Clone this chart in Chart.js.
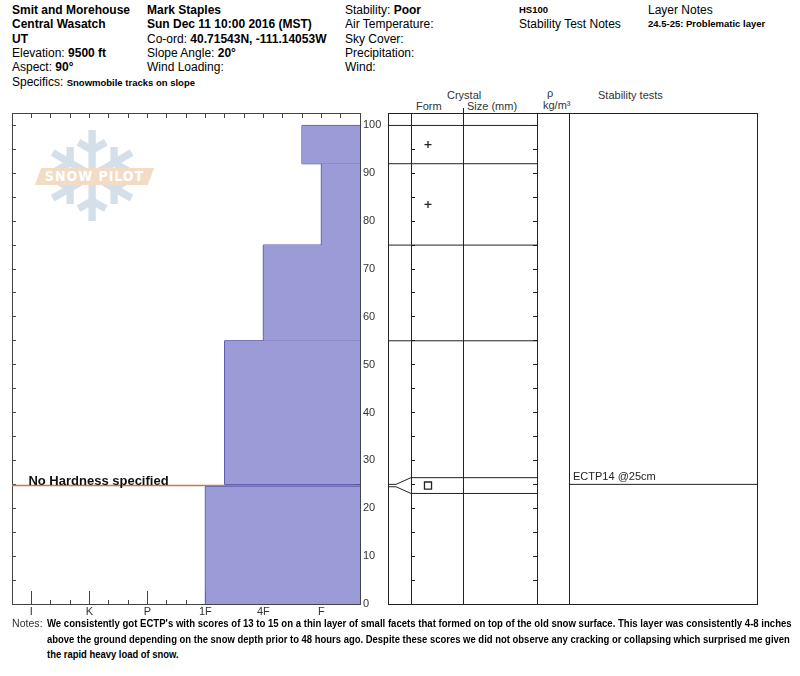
<!DOCTYPE html>
<html>
<head>
<meta charset="utf-8">
<script src="https://cdn.jsdelivr.net/npm/chart.js@4.4.0/dist/chart.umd.min.js"></script>
<style>
body { margin: 0; background: #fff; width: 800px; height: 676px; overflow: hidden; position: relative;
       font-family: "Liberation Sans", Arial, sans-serif; color: #000; }
.t { position: absolute; font-size: 12px; line-height: 14px; white-space: nowrap; }
.b { font-weight: bold; }
.s { font-size: 9.5px; font-weight: bold; }
.h { position: absolute; font-size: 11px; line-height: 12px; color: #333; white-space: nowrap; }
canvas { position: absolute; }
#notes { position: absolute; left: 12px; top: 616px; font-family: "Liberation Sans Narrow", "Arial Narrow", "Liberation Sans", sans-serif; }
#notes .lbl { position: absolute; left: 0; top: 0; font-size: 11.5px; line-height: 15.5px; color: #333; transform: scaleX(0.92); transform-origin: 0 0; }
#notes .nl { position: absolute; left: 35px; font-size: 10.5px; line-height: 15.5px; font-weight: bold; white-space: nowrap; transform-origin: 0 0; }
</style>
</head>
<body>

<!-- header -->
<div class="t b" style="left:12px;top:3px">Smit and Morehouse</div>
<div class="t b" style="left:12px;top:17px">Central Wasatch</div>
<div class="t b" style="left:12px;top:32px">UT</div>
<div class="t" style="left:12px;top:46px">Elevation: <b>9500 ft</b></div>
<div class="t" style="left:12px;top:60px">Aspect: <b>90°</b></div>
<div class="t" style="left:12px;top:75px">Specifics: <span class="s">Snowmobile tracks on slope</span></div>

<div class="t b" style="left:147px;top:3px">Mark Staples</div>
<div class="t b" style="left:147px;top:17px">Sun Dec 11 10:00 2016 (MST)</div>
<div class="t" style="left:147px;top:32px">Co-ord: <b>40.71543N, -111.14053W</b></div>
<div class="t" style="left:147px;top:46px">Slope Angle: <b>20°</b></div>
<div class="t" style="left:147px;top:60px">Wind Loading:</div>

<div class="t" style="left:345px;top:3px">Stability: <b>Poor</b></div>
<div class="t" style="left:345px;top:17px">Air Temperature:</div>
<div class="t" style="left:345px;top:32px">Sky Cover:</div>
<div class="t" style="left:345px;top:46px">Precipitation:</div>
<div class="t" style="left:345px;top:60px">Wind:</div>

<div class="t s" style="left:519px;top:3px">HS100</div>
<div class="t" style="left:519px;top:17px">Stability Test Notes</div>
<div class="t" style="left:648px;top:3px">Layer Notes</div>
<div class="t s" style="left:648px;top:17px">24.5-25: Problematic layer</div>

<!-- table headers -->
<div class="h" style="left:447px;top:89px">Crystal</div>
<div class="h" style="left:416px;top:100px">Form</div>
<div class="h" style="left:467px;top:100px">Size (mm)</div>
<div class="h" style="left:547px;top:87px">ρ</div>
<div class="h" style="left:543px;top:99px">kg/m³</div>
<div class="h" style="left:598px;top:89px">Stability tests</div>

<!-- watermark -->
<div style="position:absolute;left:32px;top:108px;width:120px;text-align:center;font:125px/140px 'DejaVu Sans';color:#d5dfe9">❄</div>
<div style="position:absolute;left:38px;top:168px;width:113px;height:17px;background:#f3dcc6;transform:skewX(-20deg)"></div>
<div style="position:absolute;left:38px;top:168px;width:113px;height:17px;line-height:17px;text-align:center;color:#fff;font:bold 14px 'DejaVu Sans Condensed','DejaVu Sans';letter-spacing:1px">SNOW PILOT</div>

<canvas id="hardness" width="400" height="640" style="left:0;top:0"></canvas>
<canvas id="layers" width="420" height="640" style="left:380px;top:0"></canvas>

<div id="notes">
  <div class="lbl">Notes:</div>
  <div class="nl" style="top:0">We consistently got ECTP's with scores of 13 to 15 on a thin layer of small facets that formed on top of the old snow surface. This layer was consistently 4-8 inches</div>
  <div class="nl" style="top:15.5px">above the ground depending on the snow depth prior to 48 hours ago. Despite these scores we did not observe any cracking or collapsing which surprised me given</div>
  <div class="nl" style="top:31px">the rapid heavy load of snow.</div>
</div>

<script>
// snow layers, heights in cm above ground
const layerBottoms   = [0, 24.5, 25, 55, 75, 92];
const layerTops      = [24.5, 25, 55, 75, 92, 100];
const layerHardness  = ['1F', null, '1F-', '4F', 'F', 'F+'];
const layerGrainForm = [null, 'FC', null, null, 'PP', 'PP'];

// hardness axis, hardest on the left
const hardnessTicks = ['I', 'K', 'P', '1F', '4F', 'F'];

// height axis
const depthTicks      = [0, 10, 20, 30, 40, 50, 60, 70, 80, 90, 100];
const depthMinorTicks = [5, 15, 25, 35, 45, 55, 65, 75, 85, 95];

// stability tests
const testNames  = ['ECTP14'];
const testDepths = [25];

// layout constants
const H_MAX = 18;          // hardness axis: one unit per minor tick
const Y_MAX = 102.6;
const TABLE_W = 369;
const COL_FORM = 23, COL_SIZE = 75, COL_DENS = 149, COL_STAB = 181;
const THIN_EXPAND = 1.65;

Chart.defaults.font.family = '"Liberation Sans", Arial, sans-serif';
Chart.defaults.font.size = 11;
Chart.defaults.color = '#333';

function hardnessValue(code) {
    var base = code.replace(/[+-]$/, '');
    var v = 1 + 3 * hardnessTicks.indexOf(base);
    if (code.endsWith('-')) v += 1;
    if (code.endsWith('+')) v -= 1;
    return v;
}

function setTicks(values) {
    return function(scale) {
        scale.ticks = values.slice().sort(function(a, b) { return a - b; }).map(function(v) { return {value: v}; });
    };
}

var allDepthTicks = depthTicks.concat(depthMinorTicks);
var majorHardness = hardnessTicks.map(function(_, i) { return 1 + 3 * i; });
var allHardness = [];
for (var k = 1; k < H_MAX; k++) allHardness.push(k);

// text drawn at data coordinates
function textPlugin(items) {
    return {
        id: 'texts',
        afterDatasetsDraw: function(chart) {
            var ctx = chart.ctx;
            ctx.save();
            items.forEach(function(it) {
                ctx.font = it.font;
                ctx.fillStyle = it.color;
                ctx.textBaseline = 'alphabetic';
                ctx.fillText(it.text, chart.scales.x.getPixelForValue(it.x),
                             chart.scales.y.getPixelForValue(it.y) + it.dy);
            });
            ctx.restore();
        }
    };
}

// ---------- hardness profile ----------
var hardSets = [];
var outline = [];
var noHardness = [];
layerTops.forEach(function(top, i) {
    var bot = layerBottoms[i];
    var code = layerHardness[i];
    if (!code) {
        noHardness.push((top + bot) / 2);
        return;
    }
    var h = hardnessValue(code);
    hardSets.push({
        type: 'line',
        data: [{x: h, y: top}, {x: H_MAX, y: top}],
        fill: {value: bot},
        backgroundColor: '#9b9bd7',
        borderWidth: 0,
        pointRadius: 0
    });
    outline.push({x: H_MAX, y: bot}, {x: h, y: bot}, {x: h, y: top}, {x: H_MAX, y: top}, {x: null, y: null});
});
hardSets.push({
    type: 'line',
    data: outline,
    borderColor: '#35359a',
    borderWidth: 1,
    pointRadius: 0,
    fill: false,
    spanGaps: false
});
noHardness.forEach(function(y) {
    hardSets.push({
        type: 'line',
        data: [{x: 0, y: y}, {x: H_MAX, y: y}],
        borderColor: '#c9784e',
        borderWidth: 1.5,
        pointRadius: 0,
        fill: false
    });
});

var axisGrey = '#444';
new Chart(document.getElementById('hardness'), {
    type: 'scatter',
    data: {datasets: hardSets},
    options: {
        responsive: false,
        animation: false,
        events: [],
        layout: {padding: {left: 12, top: 113, right: 0, bottom: 0}},
        plugins: {legend: {display: false}, tooltip: {enabled: false}},
        scales: {
            x: {
                type: 'linear', position: 'bottom', min: 0, max: H_MAX,
                afterBuildTicks: setTicks(majorHardness),
                afterFit: function(s) { s.height = 36; },
                grid: {drawOnChartArea: false, tickLength: -13, color: axisGrey},
                border: {color: axisGrey},
                ticks: {
                    padding: 14,
                    callback: function(v) { var i = majorHardness.indexOf(v); return i < 0 ? '' : hardnessTicks[i]; }
                }
            },
            xMinor: {
                axis: 'x', type: 'linear', position: {y: 0}, min: 0, max: H_MAX,
                afterBuildTicks: setTicks(allHardness),
                grid: {drawOnChartArea: false, tickLength: -4, color: axisGrey},
                border: {display: false},
                ticks: {display: false}
            },
            xTop: {
                axis: 'x', type: 'linear', position: 'top', min: 0, max: H_MAX,
                afterBuildTicks: setTicks(allHardness),
                afterFit: function(s) { s.height = 0; },
                grid: {drawOnChartArea: false, tickLength: -5, color: axisGrey},
                border: {color: axisGrey},
                ticks: {display: false}
            },
            y: {
                type: 'linear', position: 'right', min: 0, max: Y_MAX,
                afterBuildTicks: setTicks(allDepthTicks),
                afterFit: function(s) { s.width = 40; },
                grid: {drawOnChartArea: false, tickLength: -4, color: axisGrey},
                border: {color: axisGrey},
                ticks: {
                    padding: 7,
                    callback: function(v) { return depthTicks.indexOf(v) < 0 ? '' : String(v); }
                }
            },
            yLeft: {
                axis: 'y', type: 'linear', position: {x: 0}, min: 0, max: Y_MAX,
                afterBuildTicks: setTicks(allDepthTicks),
                grid: {drawOnChartArea: false, tickLength: -4, color: axisGrey},
                border: {color: axisGrey},
                ticks: {display: false}
            }
        }
    },
    plugins: [textPlugin(noHardness.map(function(y) {
        return {text: 'No Hardness specified', x: 0.85, y: y, dy: -1, font: 'bold 13px "Liberation Sans", Arial, sans-serif', color: '#111'};
    }))]
});

// ---------- layer table ----------
function isThin(i) { return layerTops[i] - layerBottoms[i] < 2; }
function tableTop(i) { return isThin(i) ? (layerTops[i] + layerBottoms[i]) / 2 + THIN_EXPAND : layerTops[i]; }
function tableBottom(i) { return isThin(i) ? (layerTops[i] + layerBottoms[i]) / 2 - THIN_EXPAND : layerBottoms[i]; }

var boundaryLines = [];
layerTops.forEach(function(top, i) {
    var ty = tableTop(i);
    if (i + 1 < layerTops.length && isThin(i + 1)) ty = tableBottom(i + 1);
    boundaryLines.push({x: 0, y: top}, {x: 8, y: top}, {x: COL_FORM, y: ty}, {x: COL_DENS, y: ty}, {x: null, y: null});
});

var grainStyle = {PP: 'cross', FC: 'rect'};
var grainRadius = {PP: 3.5, FC: 5};
var grainPts = [], grainStyles = [], grainRadii = [];
layerGrainForm.forEach(function(g, i) {
    if (!g) return;
    grainPts.push({x: 40, y: (tableTop(i) + tableBottom(i)) / 2});
    grainStyles.push(grainStyle[g]);
    grainRadii.push(grainRadius[g]);
});

var testLines = [];
testDepths.forEach(function(d) {
    testLines.push({x: COL_STAB, y: d}, {x: TABLE_W, y: d}, {x: null, y: null});
});

var ink = '#222';
new Chart(document.getElementById('layers'), {
    type: 'scatter',
    data: {
        datasets: [
            {type: 'line', data: boundaryLines, borderColor: ink, borderWidth: 1, pointRadius: 0, fill: false, spanGaps: false},
            {type: 'line', data: testLines, borderColor: ink, borderWidth: 1, pointRadius: 0, fill: false, spanGaps: false},
            {
                data: grainPts,
                pointStyle: grainStyles,
                pointRadius: grainRadii,
                borderColor: ink,
                borderWidth: 1.3,
                backgroundColor: 'rgba(0,0,0,0)'
            }
        ]
    },
    options: {
        responsive: false,
        animation: false,
        events: [],
        layout: {padding: {left: 8, top: 108, right: 43, bottom: 36}},
        plugins: {legend: {display: false}, tooltip: {enabled: false}},
        scales: {
            x: {
                type: 'linear', position: 'bottom', min: 0, max: TABLE_W,
                afterBuildTicks: setTicks([COL_FORM, COL_SIZE, COL_DENS, COL_STAB]),
                grid: {drawTicks: false, color: ink},
                border: {color: ink},
                ticks: {display: false}
            },
            xTop: {
                axis: 'x', type: 'linear', position: 'top', min: 0, max: TABLE_W,
                afterBuildTicks: setTicks([COL_SIZE]),
                grid: {drawOnChartArea: false, tickLength: 5, color: ink},
                border: {color: ink},
                ticks: {display: false}
            },
            y: {
                type: 'linear', position: 'left', min: 0, max: Y_MAX,
                grid: {display: false, drawTicks: false},
                border: {color: ink},
                ticks: {display: false}
            },
            yRight: {
                axis: 'y', type: 'linear', position: 'right', min: 0, max: Y_MAX,
                grid: {display: false, drawTicks: false},
                border: {color: ink},
                ticks: {display: false}
            },
            yForm: {
                axis: 'y', type: 'linear', position: {x: COL_FORM}, min: 0, max: Y_MAX,
                afterBuildTicks: setTicks(allDepthTicks),
                grid: {drawOnChartArea: false, tickLength: -4, color: ink},
                border: {display: false},
                ticks: {display: false}
            },
            yDens: {
                axis: 'y', type: 'linear', position: {x: COL_DENS}, min: 0, max: Y_MAX,
                afterBuildTicks: setTicks(allDepthTicks),
                grid: {drawOnChartArea: false, tickLength: 4, color: ink},
                border: {display: false},
                ticks: {display: false}
            }
        }
    },
    plugins: [textPlugin(testNames.map(function(n, i) {
        return {text: n + ' @' + testDepths[i] + 'cm', x: COL_STAB + 4, y: testDepths[i], dy: -4, font: '11px "Liberation Sans", Arial, sans-serif', color: '#222'};
    }))]
});

// squeeze note lines to the widths used in the original
var noteWidths = [745, 743, 132];
document.querySelectorAll('#notes .nl').forEach(function(el, i) {
    el.style.transform = 'scaleX(' + (noteWidths[i] / el.scrollWidth) + ')';
});
</script>
</body>
</html>
